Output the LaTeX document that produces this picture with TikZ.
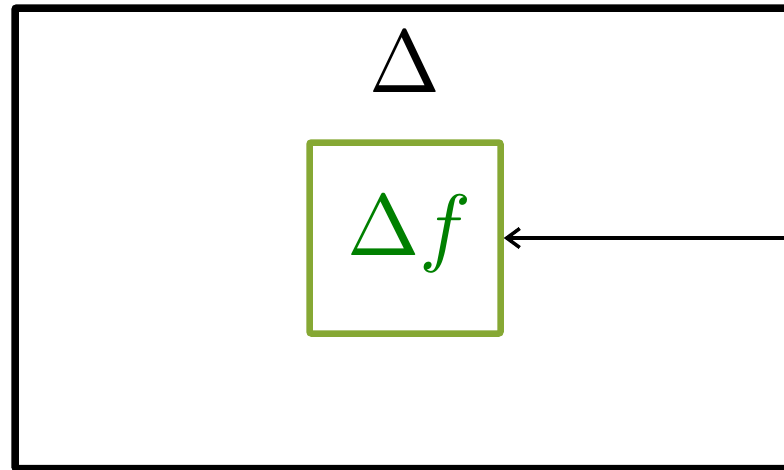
\documentclass[tikz,border=0pt]{standalone}
\usetikzlibrary{arrows.meta}
\usepackage{graphicx}
\definecolor{boxgreen}{HTML}{86A834}
\definecolor{textgreen}{HTML}{008000}
\tikzset{
  outerbox/.style={draw=black, line width=7.5pt, rounded corners=2pt},
  innerbox/.style={draw=boxgreen, line width=6.5pt, rounded corners=2pt, minimum width=191pt, minimum height=191pt, inner sep=0pt},
  conn/.style={draw=black, line width=3.5pt, -{Straight Barb[length=13pt,width=19pt,line width=3.5pt]}}
}
\begin{document}
\begin{tikzpicture}[x=1pt,y=-1pt]
\useasboundingbox (0,0) rectangle (784,469);
\draw[outerbox] (830,8) -- (15,8) -- (15,468.5) -- (830,468.5);
\node[inner sep=0pt, anchor=base] (title) at (405,92.7) {\scalebox{8.5}[8.9]{$\Delta$}};
\node[innerbox] (f) at (405,238) {};
\node[inner sep=0pt, text=textgreen, anchor=base] (ftext) at (409.5,255.5) {\scalebox{8.7}{$\Delta f$}};
\coordinate (src) at (800,238);
\draw[conn] (src) -- (f.east);
\end{tikzpicture}
\end{document}
